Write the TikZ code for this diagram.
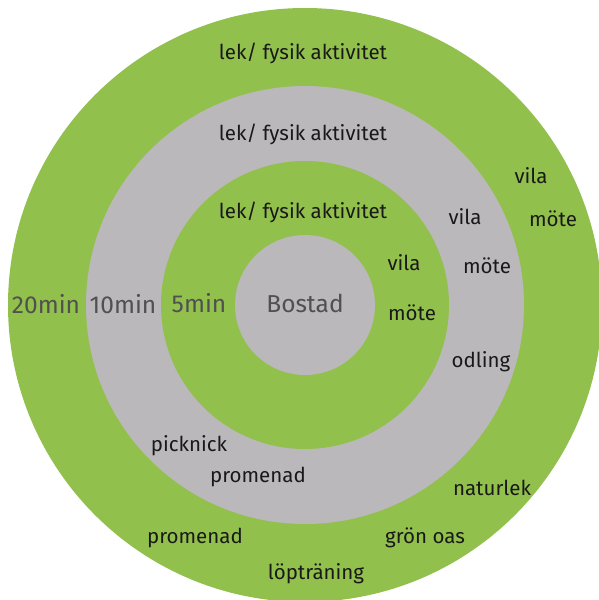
\documentclass[tikz,border=0pt]{standalone}
\usepackage{fontspec}
\setmainfont{Fira Sans}
\definecolor{ringgreen}{RGB}{146,192,76}
\definecolor{ringgray}{RGB}{186,184,186}
\definecolor{mintext}{RGB}{80,80,80}
\definecolor{labeltext}{RGB}{25,25,25}
\begin{document}
\begin{tikzpicture}[x=1pt,y=1pt,
  lbl/.style={text=labeltext,anchor=base,inner sep=0pt,font=\fontsize{20.5}{22}\selectfont},
  minlbl/.style={text=mintext,anchor=base,inner sep=0pt,font=\fontsize{24.5}{26}\selectfont},
  zone/.style={circle,inner sep=0pt,draw=none}]
\useasboundingbox (0,0) rectangle (599,-600);
\clip (0,0) rectangle (599,-600);
\fill[white] (0,0) rectangle (599,-600);
% rings
\node[zone,fill=ringgreen,minimum size=594pt] (z20) at (305,-305) {};
\node[zone,fill=ringgray,minimum size=438pt] (z10) at (305,-305) {};
\node[zone,fill=ringgreen,minimum size=288pt] (z5) at (305,-305) {};
\node[zone,fill=ringgray,minimum size=140pt] (home) at (305,-305) {};
% centre and time labels
\node[minlbl] (bostad) at (305,-312) {Bostad};
\node[minlbl] (m20) at (46,-313) {20min};
\node[minlbl] (m10) at (123,-313) {10min};
\node[minlbl] (m5) at (199,-312) {5min};
% outer ring
\node[lbl] (o1) at (303,-59) {lek/ fysik aktivitet};
\node[lbl] (o2) at (531,-183) {vila};
\node[lbl] (o3) at (553,-226) {möte};
\node[lbl] (o4) at (492,-495) {naturlek};
\node[lbl] (o5) at (425,-543) {grön oas};
\node[lbl] (o6) at (316,-579) {löpträning};
\node[lbl] (o7) at (195,-543) {promenad};
% middle ring
\node[lbl] (g1) at (303,-140) {lek/ fysik aktivitet};
\node[lbl] (g2) at (465,-224) {vila};
\node[lbl] (g3) at (487,-273) {möte};
\node[lbl] (g4) at (481,-367) {odling};
\node[lbl] (g5) at (189,-451) {picknick};
\node[lbl] (g6) at (258,-482) {promenad};
% inner ring
\node[lbl] (i1) at (303,-218) {lek/ fysik aktivitet};
\node[lbl] (i2) at (404,-270) {vila};
\node[lbl] (i3) at (412,-320) {möte};
\end{tikzpicture}
\end{document}
